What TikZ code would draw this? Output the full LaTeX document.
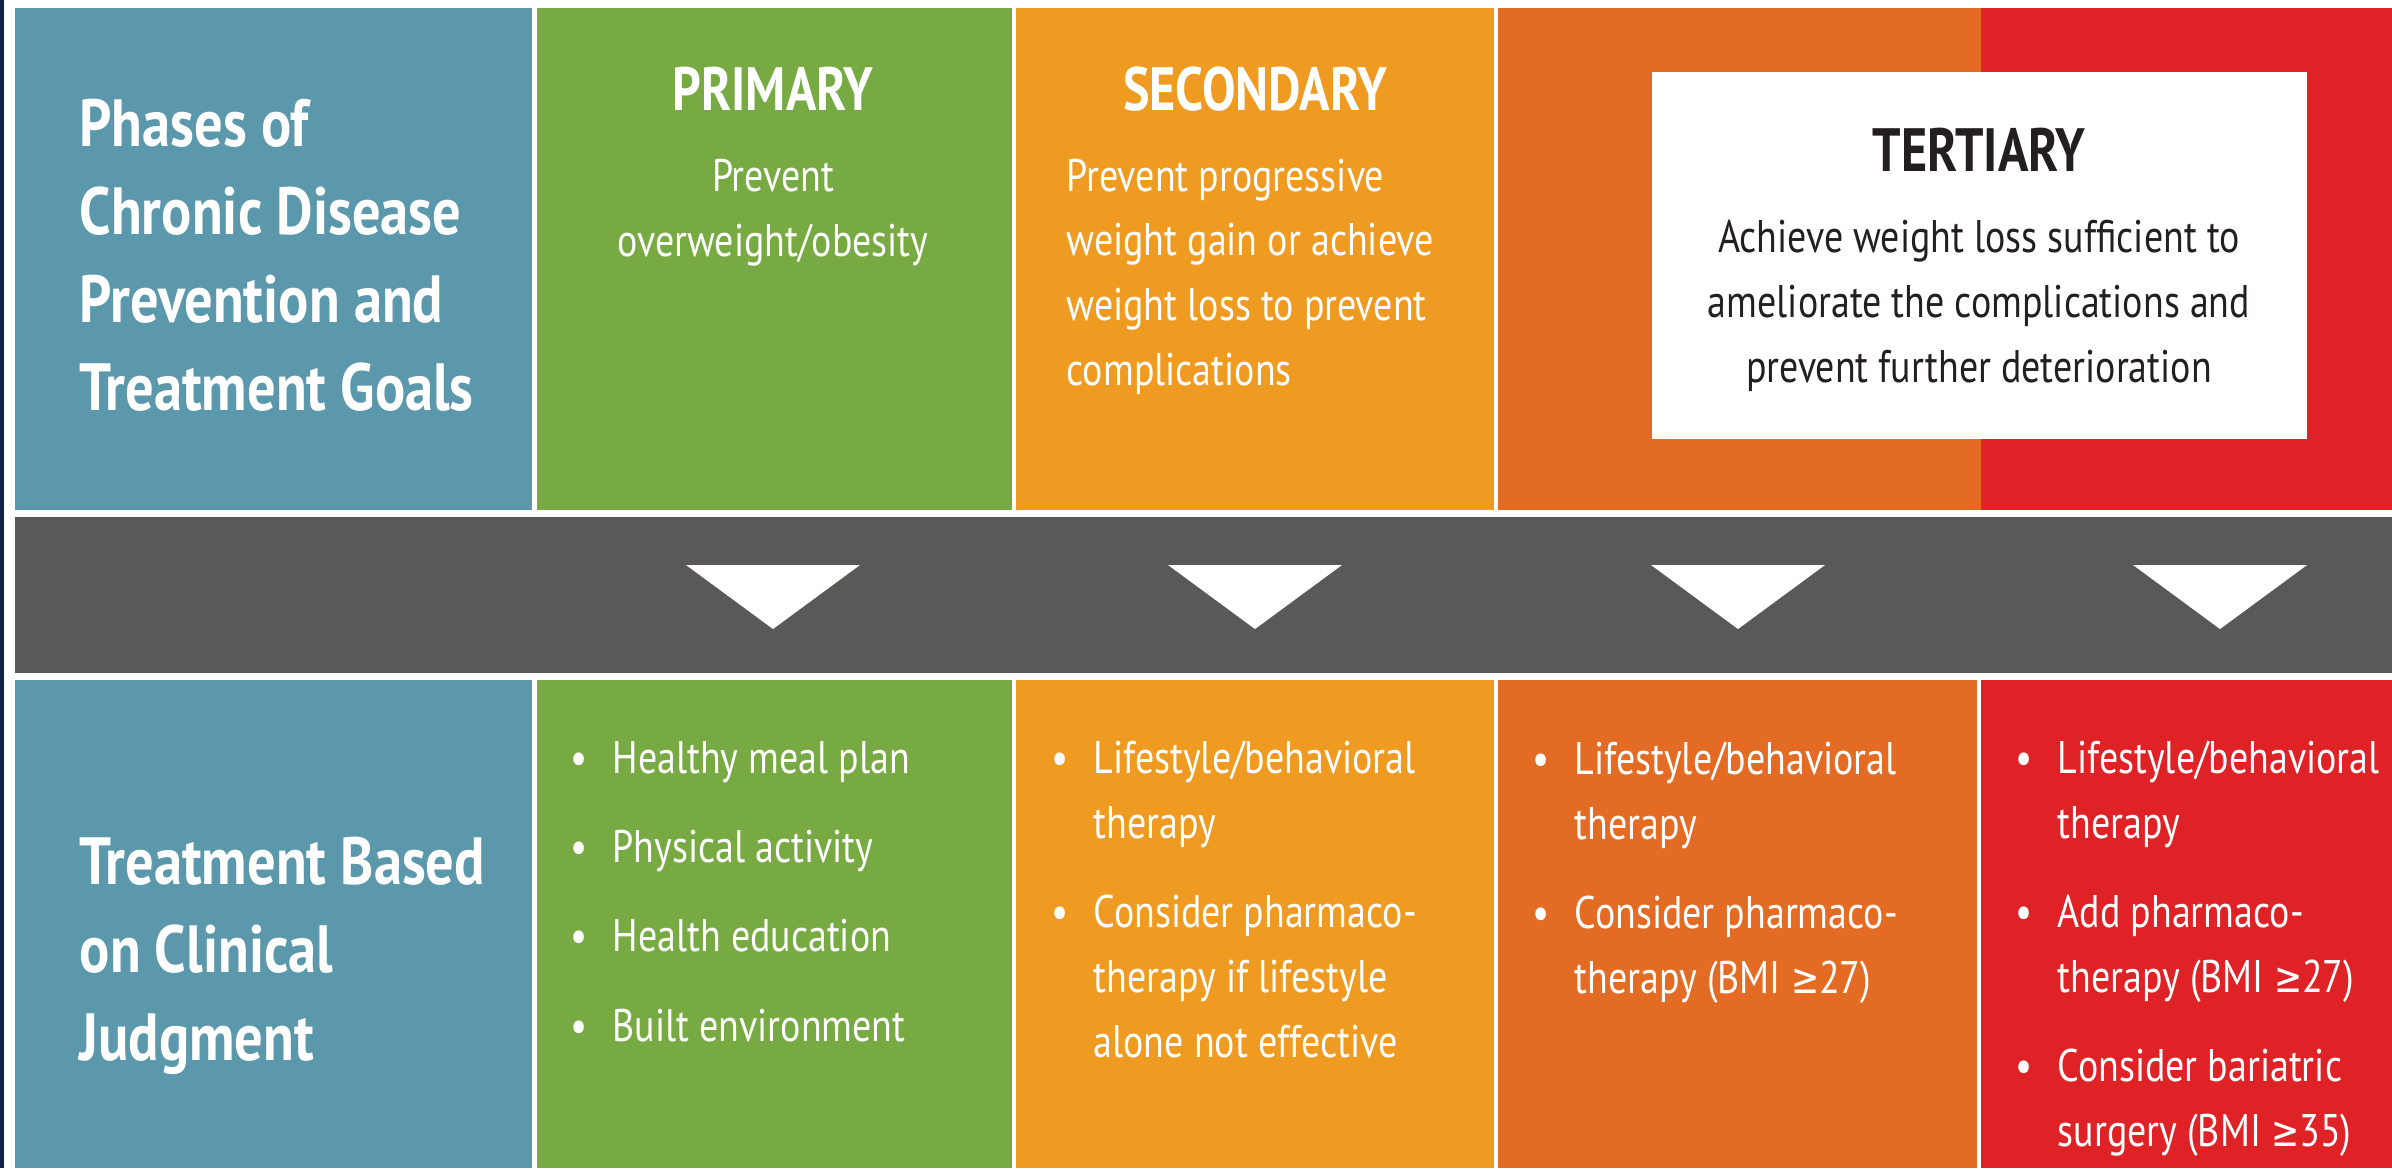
\documentclass[tikz,border=0pt]{standalone}
\usepackage{fontspec}
\setmainfont{PT Sans}
\newfontfamily\bodyfont[FakeStretch=0.83]{PT Sans}
\newfontfamily\headfont[FakeStretch=0.82]{PT Sans}
\newfontfamily\rowfont[FakeStretch=0.845]{PT Sans}
\newfontfamily\symfont[FakeStretch=0.8, Scale=0.92]{DejaVu Sans}
\usetikzlibrary{positioning}

\definecolor{phaseteal}{HTML}{5B98AB}
\definecolor{primgreen}{HTML}{78AA43}
\definecolor{secyellow}{HTML}{EF9B22}
\definecolor{tertorange}{HTML}{E36B24}
\definecolor{tertred}{HTML}{DF2226}
\definecolor{bandgray}{HTML}{5A5957}
\definecolor{edgenavy}{HTML}{0E2447}
\definecolor{boxtext}{HTML}{231F20}

\newcommand{\bul}{\llap{\textbullet\hspace{2.5mm}}}
\newcommand{\atleast}{{\symfont ≥}}

\begin{document}
\begin{tikzpicture}[
    x=0.1mm, y=-0.1mm,
    rowhead/.style={anchor=base west, align=left, text=white, inner sep=0pt, font=\rowfont\bfseries\fontsize{19}{25}\selectfont},
    phase/.style={anchor=base, text=white, inner sep=0pt, font=\headfont\bfseries\fontsize{17.4}{22}\selectfont},
    goal/.style={anchor=base, align=center, text=white, inner sep=0pt, font=\bodyfont\fontsize{13}{18.4}\selectfont},
    bullets/.style={anchor=base west, align=left, text=white, inner sep=0pt, font=\bodyfont\fontsize{13}{18.4}\selectfont}
]
\useasboundingbox (0,0) rectangle (2392,1168);
\fill[white] (0,0) rectangle (2392,1168);
\fill[edgenavy] (0,0) rectangle (4,1168);

% Top row
\fill[phaseteal] (15,8) rectangle (532,510);
\fill[primgreen] (537,8) rectangle (1012,510);
\fill[secyellow] (1016,8) rectangle (1494,510);
\fill[tertorange] (1498,8) rectangle (1981,510);
\fill[tertred] (1981,8) rectangle (2392,510);
\fill[white] (1652,72) rectangle (2307,439);

% Gray band with arrows
\fill[bandgray] (15,517) rectangle (2392,673);
\foreach \cx in {773,1255,1738,2220}
    \fill[white] (\cx-87,565) -- (\cx+87,565) -- (\cx,629) -- cycle;

% Bottom row
\fill[phaseteal] (15,680) rectangle (532,1168);
\fill[primgreen] (537,680) rectangle (1012,1168);
\fill[secyellow] (1016,680) rectangle (1494,1168);
\fill[tertorange] (1498,680) rectangle (1977,1168);
\fill[tertred] (1981,680) rectangle (2392,1168);

% Row headings (placed by the baseline of their last line)
\node (goals) [rowhead] at (79,410) {Phases of\\Chronic Disease\\Prevention and\\Treatment Goals};
\node (judgment) [rowhead] at (79,1060) {Treatment Based\\on Clinical\\Judgment};

% Phases
\node (primary) [phase] at (773,110) {PRIMARY};
\node (secondary) [phase] at (1255,110) {SECONDARY};
\node (tertiary) [phase, text=boxtext] at (1979,171) {TERTIARY};

\node (primgoal) [goal] at (773,256) {Prevent\\overweight/obesity};
\node (secgoal) [bullets] at (1066,385) {Prevent progressive\\weight gain or achieve\\weight loss to prevent\\complications};
\node (tertgoal) [goal, text=boxtext] at (1979,382) {Achieve weight loss sufficient to\\ameliorate the complications and\\prevent further deterioration};

% Treatments
\node (primtreat) [bullets] at (612,1041) {\bul Healthy meal plan\\[7pt]\bul Physical activity\\[7pt]\bul Health education\\[7pt]\bul Built environment};
\node (sectreat) [bullets] at (1093,1057) {\bul Lifestyle/behavioral\\therapy\\[7pt]\bul Consider pharmaco-\\therapy if lifestyle\\alone not effective};
\node (orangetreat) [bullets] at (1574,993) {\bul Lifestyle/behavioral\\therapy\\[7pt]\bul Consider pharmaco-\\therapy (BMI \atleast27)};
\node (redtreat) [bullets] at (2057,1146) {\bul Lifestyle/behavioral\\therapy\\[7pt]\bul Add pharmaco-\\therapy (BMI \atleast27)\\[7pt]\bul Consider bariatric\\surgery (BMI \atleast35)};

\end{tikzpicture}
\end{document}
